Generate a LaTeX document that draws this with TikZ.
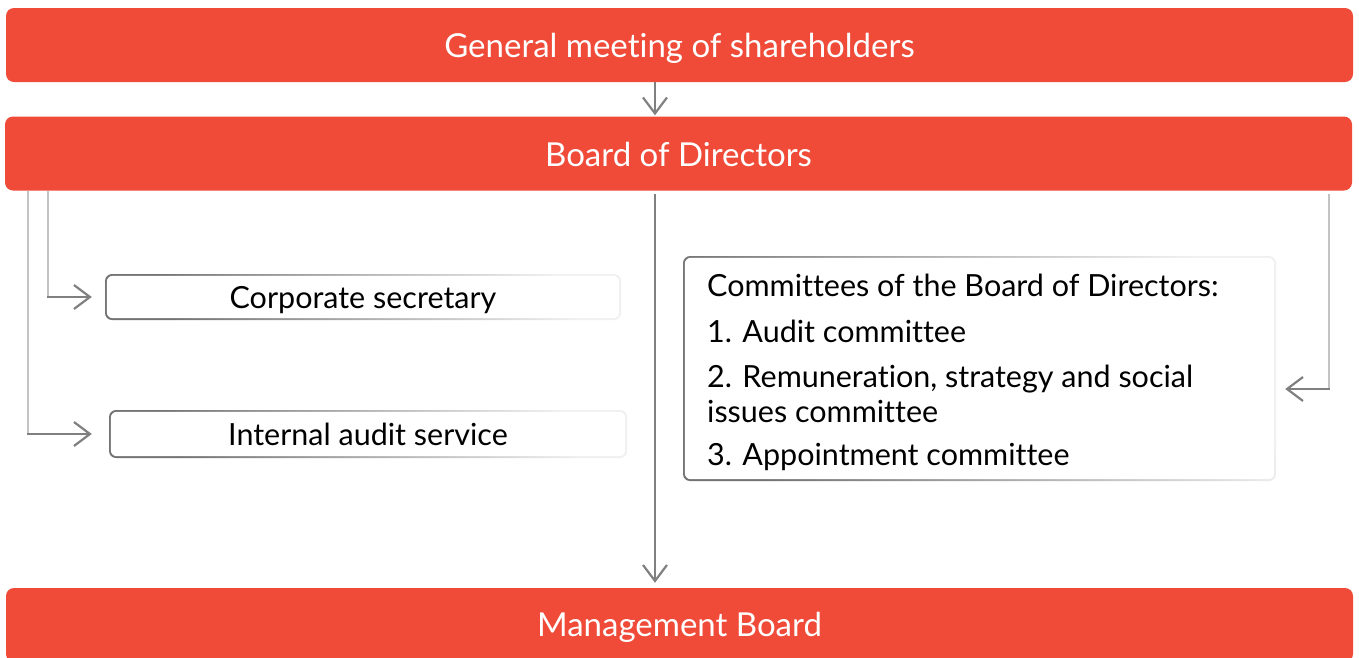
\documentclass[tikz,border=0pt]{standalone}
\usepackage{fontspec}
\setmainfont{Lato}[Ligatures=NoCommon]
\usetikzlibrary{arrows.meta}
\definecolor{orgred}{RGB}{240,74,56}
\definecolor{darkln}{RGB}{128,128,128}
\definecolor{lightln}{RGB}{195,195,195}
\tikzset{
  redbox/.style={fill=orgred, rounded corners=8pt, minimum width=1347pt, minimum height=74pt,
    text=white, inner sep=0pt, text depth=0pt, font=\fontsize{33}{38}\selectfont},
  whitebox/.style={rounded corners=7pt, inner sep=0pt, text depth=0pt, text height=22pt,
    left color=black!55, right color=black!6, shading angle=115,
    path picture={\fill[white, rounded corners=6pt]
      ([shift={(1.8pt,1.8pt)}]path picture bounding box.south west) rectangle
      ([shift={(-1.8pt,-1.8pt)}]path picture bounding box.north east);},
    font=\fontsize{30.5}{36}\selectfont},
  txt/.style={inner sep=0pt, anchor=base west, font=\fontsize{30.5}{36}\selectfont},
  darkarrow/.style={draw=darkln, line width=2.2pt, -{Straight Barb[length=16pt,width=24pt,line width=2.2pt]}},
  lightline/.style={draw=lightln, line width=2pt},
}
\begin{document}
\begin{tikzpicture}[x=1pt,y=-1pt]
\useasboundingbox (0,0) rectangle (1359,657);
\clip (0,0) rectangle (1359,657);
\node[redbox, text height=24pt] (gm) at (679.5,45) {General meeting of shareholders};
\node[redbox, text height=25pt] (bod) at (678.5,153.5) {Board of Directors};
\node[redbox, text height=23pt] (mb) at (679.5,625) {Management Board};
\node[whitebox, minimum width=516pt, minimum height=46pt] (cs) at (363,297) {Corporate secretary};
\node[whitebox, minimum width=518pt, minimum height=48pt] (ia) at (368,434) {Internal audit service};
\node[whitebox, minimum width=593pt, minimum height=225pt] (comm) at (979.5,368.5) {};
\node[txt] (c1) at (707,296) {Committees of the Board of Directors:};
\node[txt] (c2) at (707,342) {1. Audit committee};
\node[txt] (c3) at (707,387) {2. Remuneration, strategy and social};
\node[txt] (c4) at (707,422) {issues committee};
\node[txt] (c5) at (707,465) {3. Appointment committee};
% arrows
\draw[darkarrow] (gm.south -| 655,0) -- ([yshift=1pt]bod.north -| 655,0);
\draw[darkarrow, shorten <=3pt] (bod.south -| 655,0) -- ([yshift=5pt]mb.north -| 655,0);
\coordinate (csl) at (cs.west -| 48,0);
\draw[lightline] (bod.south -| 48,0) -- (csl);
\draw[darkarrow] ([xshift=-1pt]csl) -- ([xshift=-13pt]cs.west);
\coordinate (ial) at (ia.west -| 28,0);
\draw[lightline] (bod.south -| 28,0) -- (ial);
\draw[darkarrow] ([xshift=-1pt]ial) -- ([xshift=-17pt]ia.west);
\coordinate (cmr) at (1329,389);
\draw[lightline, shorten <=3pt] (bod.south -| cmr) -- (cmr);
\draw[darkarrow] ([xshift=1pt]cmr) -- ([xshift=9pt]comm.east |- cmr);
\end{tikzpicture}
\end{document}
